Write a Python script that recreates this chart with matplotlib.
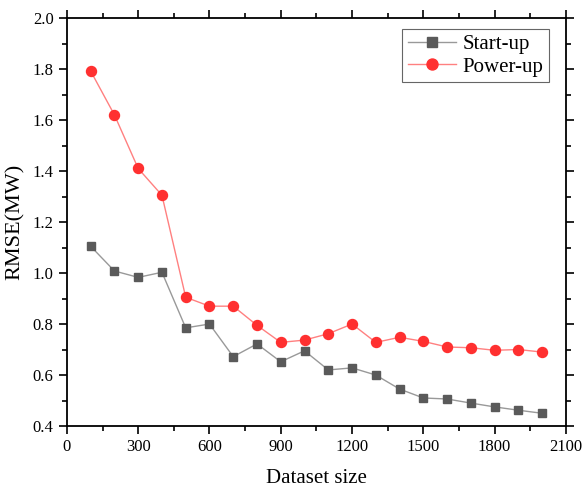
import matplotlib
matplotlib.use("Agg")
import matplotlib.pyplot as plt
from matplotlib.ticker import MultipleLocator

plt.rcParams['font.family'] = ['Liberation Serif', 'DejaVu Serif']

sizes = [100, 200, 300, 400, 500, 600, 700, 800, 900, 1000,
         1100, 1200, 1300, 1400, 1500, 1600, 1700, 1800, 1900, 2000]
startup = [1.105, 1.008, 0.983, 1.003, 0.785, 0.800, 0.672, 0.722, 0.652, 0.695,
           0.620, 0.628, 0.600, 0.545, 0.510, 0.506, 0.490, 0.475, 0.462, 0.450]
powerup = [1.792, 1.620, 1.410, 1.305, 0.905, 0.870, 0.870, 0.795, 0.728, 0.737,
           0.762, 0.800, 0.728, 0.748, 0.732, 0.710, 0.707, 0.697, 0.700, 0.690]

fig = plt.figure(figsize=(5.87, 4.88), dpi=100)
ax = fig.add_axes([0.114, 0.127, 0.850, 0.836])

ax.plot(sizes, startup, color='#999999', lw=1.0, marker='s', ms=6.3,
        mfc='#5a5a5a', mec='#5a5a5a', label='Start-up')
ax.plot(sizes, powerup, color='#ff8080', lw=1.0, marker='o', ms=7.2,
        mfc='#ff3030', mec='#ff3030', label='Power-up')

ax.set_xlim(0, 2100)
ax.set_ylim(0.4, 2.0)
ax.xaxis.set_major_locator(MultipleLocator(300))
ax.xaxis.set_minor_locator(MultipleLocator(150))
ax.yaxis.set_major_locator(MultipleLocator(0.2))
ax.yaxis.set_minor_locator(MultipleLocator(0.1))
ax.yaxis.set_major_formatter(matplotlib.ticker.FormatStrFormatter('%.1f'))

ax.tick_params(which='both', direction='out', top=True, right=True,
               labeltop=False, labelright=False, width=1.2)
ax.tick_params(which='major', length=6, labelsize=12)
ax.tick_params(which='minor', length=3.5)
for s in ax.spines.values():
    s.set_linewidth(1.3)

ax.set_xlabel('Dataset size', fontsize=15, labelpad=10)
ax.set_ylabel('RMSE(MW)', fontsize=16, labelpad=6)

leg = ax.legend(loc='upper right', bbox_to_anchor=(0.966, 0.973), fontsize=15,
                fancybox=False, framealpha=1, edgecolor='#666666',
                handlelength=2.3, borderpad=0.25, labelspacing=0.15,
                handletextpad=0.35, borderaxespad=0.0, markerscale=1.1)
leg.get_frame().set_linewidth(0.8)

fig.savefig('out.png', dpi=100)
